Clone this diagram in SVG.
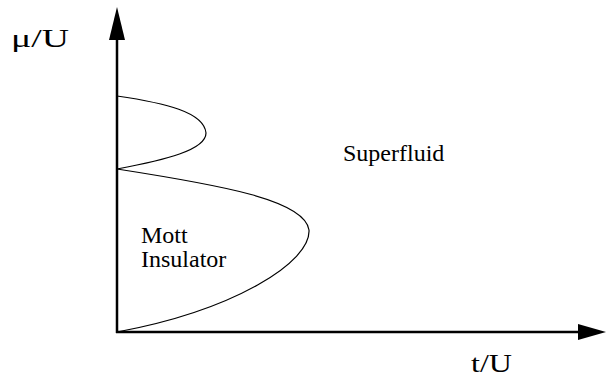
<svg xmlns="http://www.w3.org/2000/svg" width="606" height="378" viewBox="0 0 606 378">
<style>
.axis{stroke:#000;stroke-width:2.5;fill:none}
.curve{stroke:#000;stroke-width:1.2;fill:none}
.lbl{font-family:"Liberation Serif","Times New Roman",serif;fill:#000}
</style>
<rect width="606" height="378" fill="#fff"/>
<g id="axes">
<line class="axis" x1="117" y1="333" x2="117" y2="38"/>
<polygon points="117,7 109,40 125,40" fill="#000"/>
<line class="axis" x1="116" y1="332" x2="580" y2="332"/>
<polygon points="606,332 578,324 578,340" fill="#000"/>
</g>
<g id="lobes">
<path class="curve" d="M117,96 C165,103 204,112 206,133 C206,150 165,160 117,169"/>
<path class="curve" d="M117,169 C220,185 305,200 309,230 C311,262 235,310 117,332"/>
</g>
<g id="labels">
<text class="lbl" x="11" y="47" font-size="26" textLength="58" lengthAdjust="spacingAndGlyphs">μ/U</text>
<text class="lbl" x="141" y="243" font-size="24">Mott</text>
<text class="lbl" x="141" y="267" font-size="24">Insulator</text>
<text class="lbl" x="343" y="161" font-size="24">Superfluid</text>
<text class="lbl" x="471" y="372" font-size="26" textLength="41" lengthAdjust="spacingAndGlyphs">t/U</text>
</g>
</svg>
